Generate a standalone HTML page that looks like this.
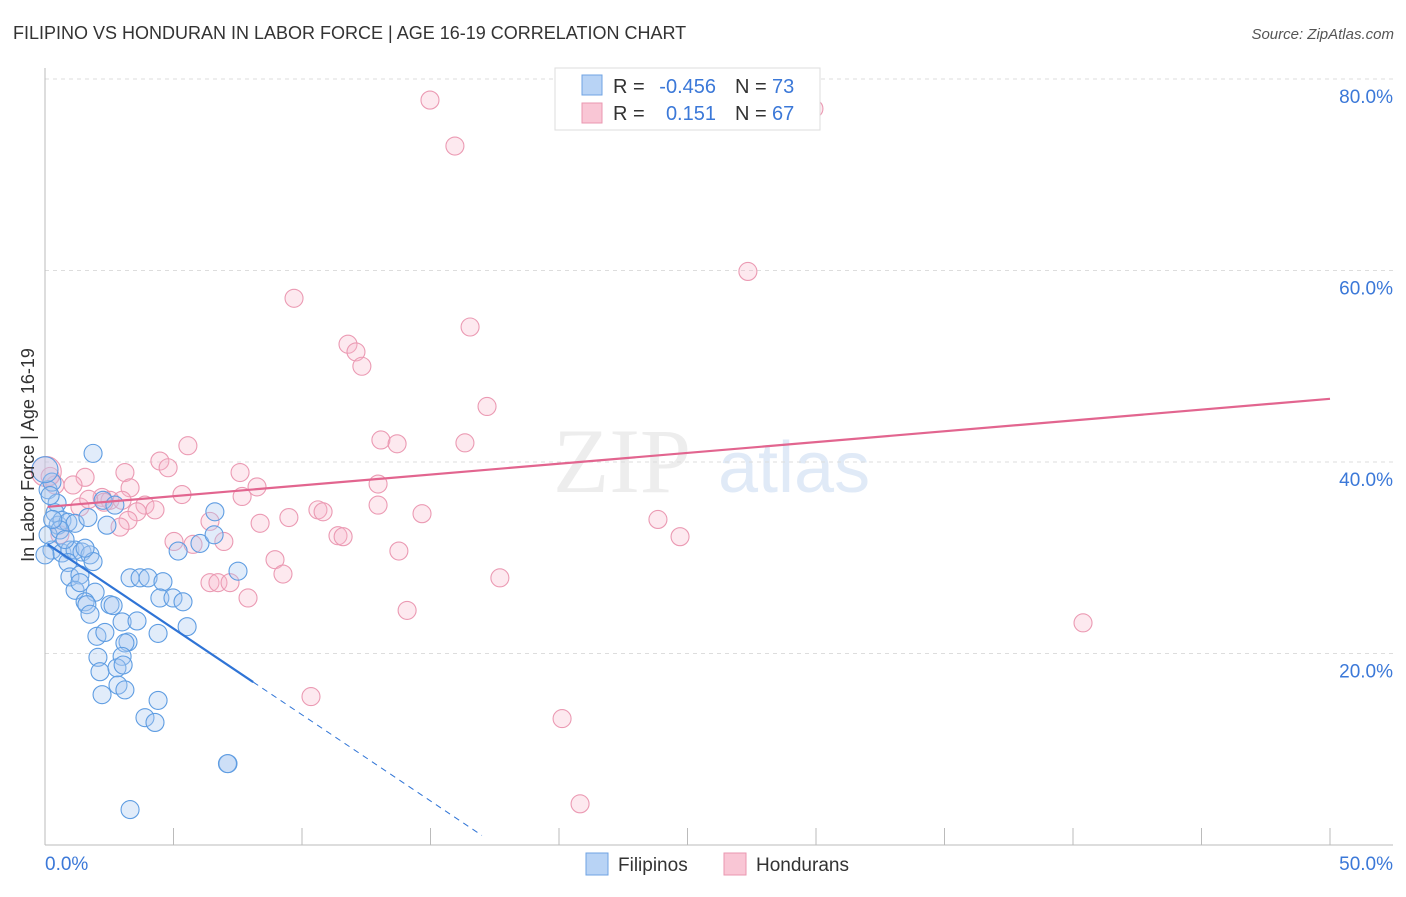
<!DOCTYPE html>
<html><head><meta charset="utf-8"><style>
body{margin:0;background:#fff;font-family:"Liberation Sans",sans-serif}
</style></head><body>
<svg id="chart" width="1406" height="892" xmlns="http://www.w3.org/2000/svg" font-family="Liberation Sans, sans-serif">
<text x="13" y="39" font-size="18" fill="#333">FILIPINO VS HONDURAN IN LABOR FORCE | AGE 16-19 CORRELATION CHART</text>
<text x="1394" y="39" font-size="15" fill="#555" text-anchor="end" font-style="italic">Source: ZipAtlas.com</text>
<g opacity="0.35">
<text x="553" y="492" font-size="92" fill="#ccc" font-family="Liberation Serif, serif">ZIP</text>
<text x="718" y="492" font-size="72" fill="#a9c4ea">atlas</text>
</g>
<g id="grid"></g>
<g id="axes"></g>
<g id="pts"></g>
<g id="lines"></g>
<text transform="translate(34,455) rotate(-90)" font-size="18" fill="#333" text-anchor="middle">In Labor Force | Age 16-19</text>
<g>
<rect x="555" y="68" width="265" height="62" fill="#fff" stroke="#ddd"/>
<rect x="582" y="75" width="20" height="20" fill="#b8d3f5" stroke="#6fa3e3"/>
<rect x="582" y="103" width="20" height="20" fill="#f9c6d5" stroke="#ea97b0"/>
<text x="613" y="93" font-size="20" fill="#333">R =</text>
<text x="716" y="93" font-size="20" fill="#3b78d8" text-anchor="end">-0.456</text>
<text x="735" y="93" font-size="20" fill="#333">N =</text>
<text x="772" y="93" font-size="20" fill="#3b78d8">73</text>
<text x="613" y="120" font-size="20" fill="#333">R =</text>
<text x="716" y="120" font-size="20" fill="#3b78d8" text-anchor="end">0.151</text>
<text x="735" y="120" font-size="20" fill="#333">N =</text>
<text x="772" y="120" font-size="20" fill="#3b78d8">67</text>
</g>
<g>
<rect x="586" y="853" width="22" height="22" fill="#b8d3f5" stroke="#6fa3e3"/>
<text x="618" y="871" font-size="19" fill="#333">Filipinos</text>
<rect x="724" y="853" width="22" height="22" fill="#f9c6d5" stroke="#ea97b0"/>
<text x="756" y="871" font-size="19" fill="#333">Hondurans</text>
</g>
</svg>
<script>
const blueX=[1.87,0.12,0.27,0.47,0.39,0.51,0.66,0.89,1.17,1.67,2.26,2.72,2.41,0.27,0.66,0.97,1.17,1.44,1.75,1.87,0.89,0.97,1.36,1.17,1.36,1.95,1.56,1.63,1.75,2.53,2.65,2.02,2.33,3.0,3.58,3.23,3.11,2.06,3.0,2.14,2.8,3.04,2.84,2.22,3.11,4.4,3.89,4.28,3.31,7.12,3.31,3.7,4.01,4.59,4.47,4.98,5.37,5.53,4.4,5.18,6.03,6.61,6.58,7.51,0,0.12,0.58,0.78,1.56,7.1,0,0.2,0.3];
const blueY=[40.9,37.1,37.9,35.7,34.7,33.4,33.9,33.7,33.6,34.2,36.0,35.5,33.4,30.8,30.5,30.8,30.8,30.6,30.3,29.6,29.5,28.0,28.2,26.6,27.4,26.4,25.4,25.1,24.1,25.1,25.0,21.8,22.2,23.3,23.4,21.2,21.1,19.6,19.7,18.1,18.5,18.8,16.7,15.7,16.2,15.1,13.3,12.8,3.7,8.5,27.9,27.9,27.9,27.5,25.8,25.8,25.4,22.8,22.1,30.7,31.5,34.8,32.4,28.6,30.3,32.4,32.9,31.9,31.0,8.5,39.2,36.5,34.0];
const pinkX=[14.98,15.95,29.92,27.35,9.69,16.54,11.79,12.1,12.33,17.2,5.56,13.07,13.7,16.34,4.47,4.79,3.11,7.59,1.56,1.09,3.31,2.22,2.53,3.0,8.25,5.33,7.67,12.96,1.36,3.89,4.28,3.58,3.23,2.92,6.42,8.37,9.49,10.62,10.82,12.96,14.67,23.85,24.71,5.02,5.76,6.96,11.4,11.6,13.77,8.95,9.26,6.42,6.73,7.2,7.9,14.09,17.7,40.39,10.35,20.12,20.82,0.58,0.39,0.2,2.3,1.7,0.05];
const pinkY=[77.8,73.0,76.9,59.9,57.1,54.1,52.3,51.5,50.0,45.8,41.7,42.3,41.9,42.0,40.1,39.4,38.9,38.9,38.4,37.6,37.3,36.3,36.0,36.0,37.4,36.6,36.4,37.7,35.3,35.5,35.0,34.8,33.9,33.2,33.8,33.6,34.2,35.0,34.8,35.5,34.6,34.0,32.2,31.7,31.4,31.7,32.3,32.2,30.7,29.8,28.3,27.4,27.4,27.4,25.8,24.5,27.9,23.2,15.5,13.2,4.3,32.4,37.6,38.5,35.8,36.1,39.0];
const yTicks=[20,40,60,80];
const xTickLabels=["0.0%","50.0%"];
const blueLine={x0:0.1,x1:8.1,xEnd:17,b:31.6,m:-1.8};
const pinkLine={b:35.3,m:0.226};
const NS="http://www.w3.org/2000/svg";
const X=v=>45+v*25.7, Y=v=>845-v*9.575;
function mk(t,a,p){const e=document.createElementNS(NS,t);for(const k in a)e.setAttribute(k,a[k]);p.appendChild(e);return e;}
const grid=document.getElementById('grid'),axes=document.getElementById('axes');
yTicks.forEach(t=>{
 const l=mk('line',{x1:45,x2:1393,y1:Y(t),y2:Y(t),stroke:'#ddd','stroke-dasharray':'4,4'},grid);
 
 
 const tx=mk('text',{x:1393,y:Y(t)+24,'font-size':19,fill:'#3b78d8','text-anchor':'end'},axes);
 tx.textContent=t.toFixed(1)+'%';
 
 
});
mk('line',{x1:45,x2:45,y1:68,y2:845,stroke:'#bbb'},axes);
mk('line',{x1:45,x2:1393,y1:845,y2:845,stroke:'#bbb'},axes);
for(let i=0;i<=10;i++){const l=mk('line',{x1:X(i*5),x2:X(i*5),y1:828,y2:845,stroke:'#bbb'},axes);
 
 }
const t0=mk('text',{x:45,y:870,'font-size':19,fill:'#3b78d8'},axes);t0.textContent=xTickLabels[0];


const t1=mk('text',{x:1393,y:870,'font-size':19,fill:'#3b78d8','text-anchor':'end'},axes);t1.textContent=xTickLabels[1];


const pts=document.getElementById('pts');
pinkX.forEach((x,i)=>{const c=mk('circle',{cx:X(x),cy:Y(pinkY[i]),r:i==pinkX.length-1?15:9,fill:'rgba(248,183,203,0.3)',stroke:'#eb9ab3','stroke-width':1.1},pts);
 
 });
blueX.forEach((x,i)=>{const c=mk('circle',{cx:X(x),cy:Y(blueY[i]),r:i==70?13:9,fill:'rgba(168,200,242,0.35)',stroke:'#5f9de2','stroke-width':1.1},pts);
 
 });
const lg=document.getElementById('lines');
const bl=mk('line',{x1:X(blueLine.x0),y1:Y(blueLine.b+blueLine.m*blueLine.x0),x2:X(blueLine.x1),y2:Y(blueLine.b+blueLine.m*blueLine.x1),stroke:'#2f74d6','stroke-width':2.2},lg);


const bd=mk('line',{x1:X(blueLine.x1),y1:Y(blueLine.b+blueLine.m*blueLine.x1),x2:X(blueLine.xEnd),y2:Y(blueLine.b+blueLine.m*blueLine.xEnd),stroke:'#2f74d6','stroke-width':1,'stroke-dasharray':'6,5'},lg);


const pl=mk('line',{x1:X(0.1),y1:Y(pinkLine.b+pinkLine.m*0.1),x2:X(50),y2:Y(pinkLine.b+pinkLine.m*50),stroke:'#e2658f','stroke-width':2.2},lg);


</script>
</body></html>
